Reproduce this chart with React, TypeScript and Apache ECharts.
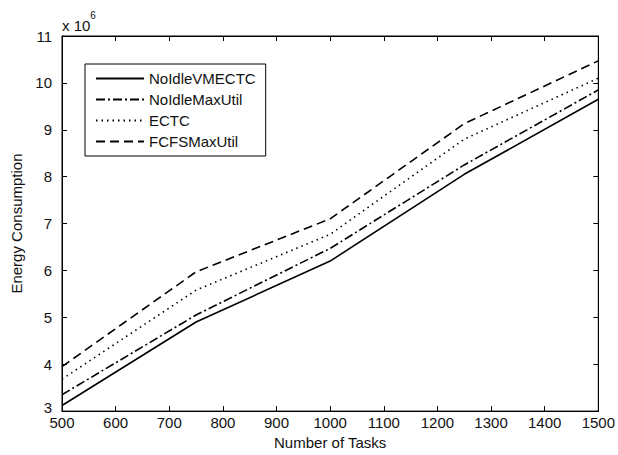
import React, { useEffect, useRef } from "react";
import * as echarts from "echarts";

const tasks = [500, 750, 1000, 1250, 1500];
const noIdleVMECTC = [3.12, 4.9, 6.2, 8.05, 9.65];
const noIdleMaxUtil = [3.35, 5.05, 6.47, 8.25, 9.85];
const ectc = [3.68, 5.58, 6.77, 8.8, 10.1];
const fcfsMaxUtil = [3.95, 5.97, 7.1, 9.13, 10.47];

const seriesNames = ["NoIdleVMECTC", "NoIdleMaxUtil", "ECTC", "FCFSMaxUtil"];
const seriesValues = [noIdleVMECTC, noIdleMaxUtil, ectc, fcfsMaxUtil];
const dashTypes: any[] = ["solid", [9, 3, 2, 3], [1.5, 4], [9, 5]];

const FONT = "'Liberation Sans', Arial, sans-serif";
const FS = 15;

export default function App() {
  const ref = useRef<HTMLDivElement>(null);
  useEffect(() => {
    if (!ref.current) return;
    const chart = echarts.init(ref.current, undefined, { renderer: "svg" });
    const axisCommon = {
      axisLine: { show: true, onZero: false, lineStyle: { color: "#000", width: 1 } },
      axisTick: { show: true, inside: true, length: 5, lineStyle: { color: "#000" } },
      splitLine: { show: false },
    };
    chart.setOption({
      animation: false,
      backgroundColor: "#fff",
      textStyle: { fontFamily: FONT },
      grid: { left: 62, right: 16, top: 36, bottom: 41, show: true, borderColor: "#000", borderWidth: 1 },
      xAxis: [
        {
          type: "value", min: 500, max: 1500, interval: 100, position: "bottom",
          ...axisCommon,
          axisLabel: { color: "#111", fontSize: FS, fontFamily: FONT, margin: 4, formatter: (v: number) => String(v) },
          name: "Number of Tasks", nameLocation: "middle", nameGap: 18,
          nameTextStyle: { color: "#111", fontSize: FS, fontFamily: FONT },
        },
        {
          type: "value", min: 500, max: 1500, interval: 100, position: "top",
          ...axisCommon, axisLabel: { show: false },
        },
      ],
      yAxis: [
        {
          type: "value", min: 3, max: 11, interval: 1, position: "left",
          ...axisCommon,
          axisLabel: {
            color: "#111", fontSize: FS, fontFamily: FONT, margin: 10,
            formatter: (v: number) => (v === 3 ? "{low|3}" : String(v)),
            rich: { low: { color: "#111", fontSize: FS, fontFamily: FONT, padding: [0, 0, 8, 0] } },
          },
          name: "Energy Consumption", nameLocation: "middle", nameGap: 34,
          nameTextStyle: { color: "#111", fontSize: FS, fontFamily: FONT },
        },
        {
          type: "value", min: 3, max: 11, interval: 1, position: "right",
          ...axisCommon, axisLabel: { show: false },
        },
      ],
      legend: {
        orient: "vertical", left: 85, top: 64,
        backgroundColor: "#fff", borderColor: "#000", borderWidth: 1,
        padding: [7, 10, 7, 10], itemGap: 6, itemWidth: 48, itemHeight: 14,
        itemStyle: { opacity: 0 },
        textStyle: { color: "#111", fontSize: FS, fontFamily: FONT },
        data: seriesNames,
      },
      graphic: [
        {
          type: "text", left: 62, top: 10,
          style: {
            text: "{a|x 10}{b|6}", fill: "#111", fontFamily: FONT,
            rich: {
              a: { fontSize: FS, fontFamily: FONT, fill: "#111", padding: [8, 0, 0, 0] },
              b: { fontSize: 10, fontFamily: FONT, fill: "#111", verticalAlign: "top" },
            },
          },
        },
      ],
      series: seriesNames.map((name, i) => ({
        name, type: "line", xAxisIndex: 0, yAxisIndex: 0,
        symbol: "none",
        lineStyle: { color: "#000", width: 1.6, type: dashTypes[i] },
        itemStyle: { color: "#000" },
        data: tasks.map((t, j) => [t, seriesValues[i][j]]),
      })),
    });
    return () => chart.dispose();
  }, []);
  return <div ref={ref} style={{ width: 618, height: 455, position: "absolute", left: 0, top: 0 }} />;
}
